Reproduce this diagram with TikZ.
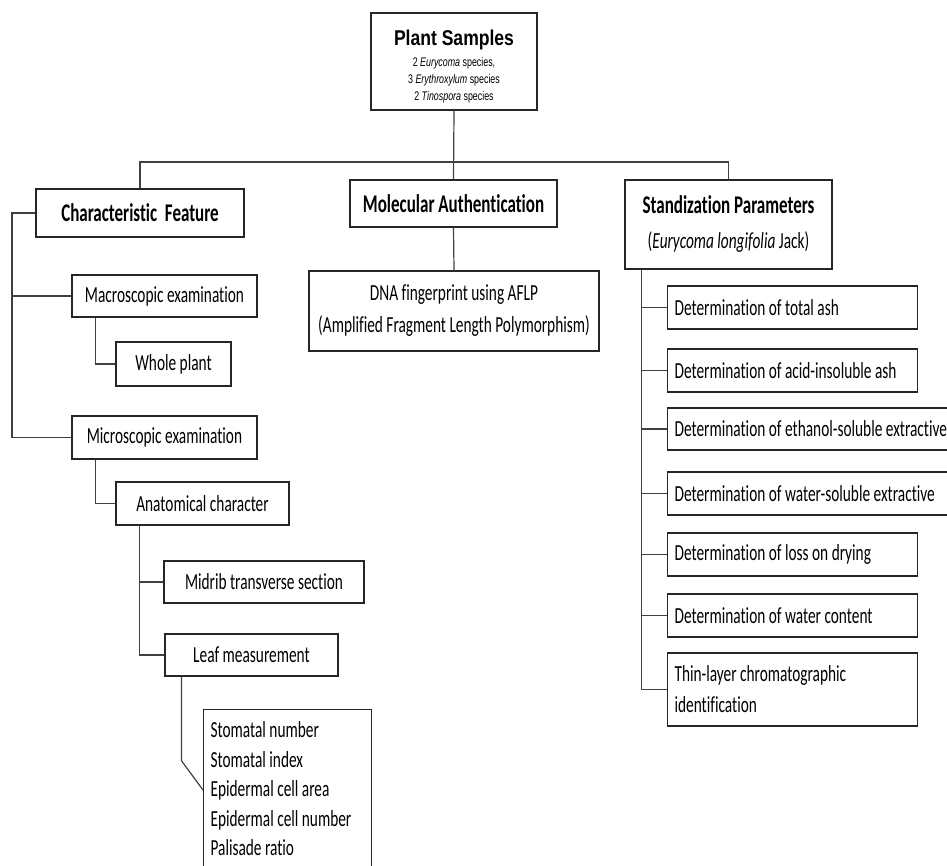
\documentclass[tikz,border=0pt]{standalone}
\usepackage{fontspec}
\setmainfont[FakeStretch=0.667, Ligatures=NoCommon]{Carlito}
\newfontfamily\topfont[FakeStretch=0.82]{Liberation Sans}
\newfontfamily\subfont[FakeStretch=0.71]{Liberation Sans}
\usepackage{tikz}

\newcommand{\smalltop}{\subfont\mdseries\fontsize{12.5}{18}\selectfont}
\newcommand{\fillrow}[2][236pt]{\makebox[#1][l]{#2}}

\tikzset{
    box/.style={draw=black!85, line width=1.2pt, rectangle, inner sep=0pt,
        font=\fontsize{23}{32}\selectfont, align=center},
    head/.style={box, font=\bfseries\fontsize{25.5}{33}\selectfont},
    lbox/.style={box, anchor=west, inner xsep=7pt, align=left},
    link/.style={draw=black!75, line width=1.2pt},
}

\begin{document}
\begin{tikzpicture}[x=1pt, y=-1pt]
    \useasboundingbox (0,0) rectangle (947,865);

    % top
    \node[box, minimum width=166, minimum height=97, font=\topfont\bfseries\fontsize{21.4}{24}\selectfont] (plant) at (454,61.5)
        {\rule{0pt}{26pt}Plant Samples\\[-3.3pt]
         \smalltop 2 \textit{Eurycoma} species,\\[-7pt]
         \smalltop 3 \textit{Erythroxylum} species\\[-7pt]
         \smalltop 2 \textit{Tinospora} species};

    % three branches
    \node[head, minimum width=208, minimum height=48] (charf) at (140,213) {Characteristic~~Feature};
    \node[head, minimum width=207, minimum height=47] (mol) at (453.5,203.5) {Molecular Authentication};
    \node[head, minimum width=207, minimum height=89] (stdp) at (728.5,224.5)
        {Standization Parameters\\[2pt]
         \mdseries\fontsize{23}{32}\selectfont(\textit{Eurycoma longifolia} Jack)};

    \node[box, minimum width=290, minimum height=80] (dna) at (454,311)
        {DNA fingerprint using AFLP\\[0pt](Amplified Fragment Length Polymorphism)};

    % characteristic feature
    \node[box, minimum width=185, minimum height=42] (macro) at (164.5,296) {Macroscopic examination};
    \node[box, minimum width=115, minimum height=44] (whole) at (173.5,364) {Whole plant};
    \node[box, minimum width=185, minimum height=43] (micro) at (164.5,437.5) {Microscopic examination};
    \node[box, minimum width=173, minimum height=43] (anat) at (202.5,503.5) {Anatomical character};
    \node[box, minimum width=200, minimum height=42] (midrib) at (264,582) {Midrib transverse section};
    \node[box, minimum width=173, minimum height=42] (leaf) at (251.5,655) {Leaf measurement};
    \node[lbox, anchor=north west, inner ysep=12pt, font=\fontsize{23}{29.5}\selectfont] (stom) at (203,709)
        {\fillrow[154pt]{Stomatal number}\\ Stomatal index\\ Epidermal cell area\\
         Epidermal cell number\\ Palisade ratio\\ \strut};

    % standardization
    \node[lbox, minimum height=43] (ash) at (667,307.5) {\fillrow{Determination of total ash}};
    \node[lbox, minimum height=43] (acid) at (667,370.5) {\fillrow{Determination of acid-insoluble ash}};
    \node[lbox, minimum height=42] (eth) at (667,429) {\fillrow[276pt]{Determination of ethanol-soluble extractive}};
    \node[lbox, minimum height=43] (wsol) at (667,493.5) {\fillrow[276pt]{Determination of water-soluble extractive}};
    \node[lbox, minimum height=43] (loss) at (667,554.5) {\fillrow{Determination of loss on drying}};
    \node[lbox, minimum height=43] (water) at (667,615.5) {\fillrow{Determination of water content}};
    \node[lbox, minimum height=73, font=\fontsize{23}{31}\selectfont] (tlc) at (667,689.5)
        {\fillrow{Thin-layer chromatographic}\\identification};

    % connectors
    \coordinate (bar) at (454,162);
    \draw[link] (plant.south) -- (mol.north);
    \draw[link] (charf.north) |- (bar) -| (stdp.north);
    \draw[link] (mol.south) -- (dna.north);

    \coordinate (ltrunk) at (12,213);
    \draw[link] (charf.west) -- (ltrunk) |- (micro.west);
    \draw[link] (macro.west) -- (macro.west -| ltrunk);
    \draw[link] ([xshift=24pt]macro.south west) |- (whole.west);
    \draw[link] ([xshift=24pt]micro.south west) |- (anat.west);
    \coordinate (anatb) at ([xshift=24pt]anat.south west);
    \draw[link] (anatb) |- (leaf.west);
    \draw[link] (midrib.west) -- (midrib.west -| anatb);
    \draw[link] ([xshift=17pt]leaf.south west) -- ++(0,84) -- ([yshift=-81pt]stom.north west);

    \coordinate (rtrunk) at ([xshift=17pt]stdp.south west);
    \draw[link] (rtrunk) |- (tlc.west);
    \foreach \n in {ash,acid,eth,wsol,loss,water}
        \draw[link] (\n.west) -- (\n.west -| rtrunk);
\end{tikzpicture}
\end{document}
